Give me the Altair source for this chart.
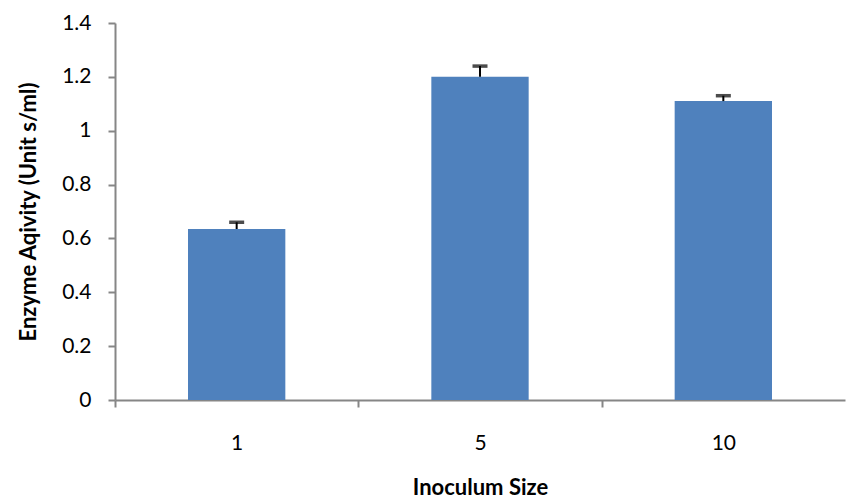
import altair as alt
import pandas as pd

# Enzyme activity by inoculum size
sizes = ["1", "5", "10"]
activity = [0.635, 1.2, 1.11]
upper = [0.66, 1.24, 1.13]

df = pd.DataFrame({"size": sizes, "activity": activity, "upper": upper})

W, H = 730, 377
step = W / 3.0
FONT = "Lato"
AXIS_GRAY = "#868686"

x_scale = alt.Scale(domain=sizes, paddingInner=0.6, paddingOuter=0.3)
y_scale = alt.Scale(domain=[0, 1.4], nice=False, zero=True)

x_axis = alt.Axis(
    title="Inoculum Size",
    labelAngle=0,
    tickOffset=-step / 2,
    labelOffset=step / 2,
    tickSize=7,
    labelPadding=25,
    titlePadding=24,
)
y_axis = alt.Axis(
    title="Enzyme Aqivity  (Unit s/ml)",
    values=[0, 0.2, 0.4, 0.6, 0.8, 1.0, 1.2, 1.4],
    format=".1~f",
    tickSize=7,
    labelPadding=17,
    titlePadding=21,
    grid=False,
)

base = alt.Chart(df)

bars = base.mark_bar(color="#4F81BD").encode(
    x=alt.X("size:N", scale=x_scale, axis=x_axis, sort=sizes),
    y=alt.Y("activity:Q", scale=y_scale, axis=y_axis),
)

err_line = base.mark_rule(color="black", strokeWidth=2).encode(
    x=alt.X("size:N", scale=x_scale, sort=sizes),
    y="activity:Q",
    y2="upper:Q",
)

err_cap = base.mark_tick(color="black", size=15, thickness=3.5, orient="horizontal").encode(
    x=alt.X("size:N", scale=x_scale, sort=sizes),
    y=alt.Y("upper:Q", scale=y_scale),
)

chart = (
    alt.layer(bars, err_line, err_cap)
    .properties(
        width=W,
        height=H,
        autosize=alt.AutoSizeParams(type="none"),
        padding={"left": 115, "top": 23, "right": 1, "bottom": 100},
        background="white",
    )
    .configure_view(stroke=None)
    .configure_axis(
        domainColor=AXIS_GRAY,
        domainWidth=2,
        tickColor=AXIS_GRAY,
        tickWidth=2,
        labelFont=FONT,
        labelFontSize=21,
        labelColor="#000000",
        titleFont=FONT,
        titleFontSize=22,
        titleFontWeight="bold",
        titleColor="#000000",
        grid=False,
    )
)

chart.save("out.html", embed_options={"renderer": "svg", "actions": False})
